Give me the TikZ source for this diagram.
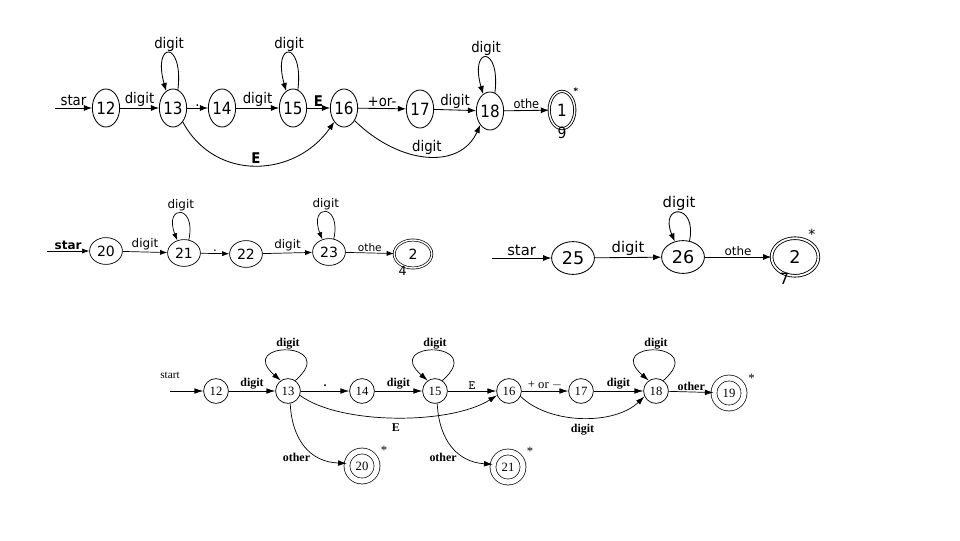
\documentclass[tikz,border=0pt]{standalone}
\usepackage{fontspec}
\setmainfont{Liberation Serif}
\newfontfamily\condsans{DejaVu Sans Condensed}
\newfontfamily\plainsans{DejaVu Sans}
\usetikzlibrary{arrows.meta,positioning,shapes.geometric}

\begin{document}
\begin{tikzpicture}[
    x=0.025cm, y=-0.025cm,
    % upper diagram
    tstate/.style={ellipse, draw, line width=0.6pt, minimum width=6.3mm, minimum height=9.5mm, inner sep=0pt, font=\condsans\fontsize{12}{12}\selectfont},
    taccept/.style={tstate, double, double distance=1pt, minimum width=6.4mm, minimum height=9.3mm},
    tedge/.style={-{Latex[length=2mm,width=1.5mm]}, line width=0.6pt, font=\condsans\fontsize{10.5}{10.5}\selectfont},
    % middle left diagram
    mstate/.style={ellipse, draw, line width=0.5pt, minimum width=8.2mm, minimum height=6.7mm, inner sep=0pt, font=\plainsans\fontsize{10}{10}\selectfont},
    maccept/.style={mstate, double, double distance=1pt, minimum width=9.4mm, minimum height=7mm},
    medge/.style={-{Latex[length=1.8mm,width=1.3mm]}, line width=0.5pt, font=\plainsans\fontsize{8.5}{8.5}\selectfont},
    % middle right diagram
    rstate/.style={ellipse, draw, line width=0.6pt, minimum width=10.7mm, minimum height=8.2mm, inner sep=0pt, font=\plainsans\fontsize{12.5}{12.5}\selectfont},
    raccept/.style={rstate, double, double distance=1.3pt, minimum width=11.7mm, minimum height=9.4mm},
    redge/.style={-{Latex[length=2mm,width=1.5mm]}, line width=0.6pt, font=\plainsans\fontsize{10.5}{10.5}\selectfont},
    % lower diagram
    bstate/.style={circle, draw, line width=0.5pt, minimum size=6.2mm, inner sep=0pt, font=\fontsize{9}{9}\selectfont},
    baccept/.style={bstate, double, double distance=1.3mm, minimum size=7.5mm},
    bedge/.style={-{Latex[length=2.2mm,width=1.4mm]}, line width=0.5pt, font=\bfseries\fontsize{8.5}{8.5}\selectfont},
    lbl/.style={inner sep=1pt}
]
\fill[white] (0,0) rectangle (960,540);
\useasboundingbox (0,0) rectangle (960,540);

% ---- upper diagram
\coordinate (t0) at (55,108);
\node[tstate] (t12) at (106,108) {12};
\node[tstate] (t13) at (173,108) {13};
\node[tstate] (t14) at (222,108) {14};
\node[tstate] (t15) at (293,108) {15};
\node[tstate] (t16) at (344,108) {16};
\node[tstate] (t17) at (420,109) {17};
\node[tstate] (t18) at (490,111) {18};
\node[taccept, label={[font=\scriptsize\bfseries, label distance=-3pt]60:*}, label={[font=\condsans\fontsize{11}{11}\selectfont, label distance=-5pt]below:9}] (t19) at (562,110) {1};

\draw[tedge] (t0) -- node[above, lbl] {star} (t12);
\draw[tedge] (t12) -- node[above, lbl] {digit} (t13);
\draw[tedge] (t13.75) .. controls +(6,-50) and +(-14,-50) .. node[above, lbl] {digit} (t13.112);
\draw[tedge] (t13) -- node[above, lbl] {.} (t14);
\draw[tedge] (t14) -- node[above, lbl] {digit} (t15);
\draw[tedge] (t15.75) .. controls +(6,-50) and +(-14,-50) .. node[above, lbl] {digit} (t15.112);
\draw[tedge] (t15) -- node[above, lbl] {\bfseries E} (t16);
\draw[tedge] (t16) -- node[above, lbl] {+or-} (t17);
\draw[tedge] (t17) -- node[above, lbl] {digit} (t18);
\draw[tedge] (t18.75) .. controls +(6,-48) and +(-14,-48) .. node[above, lbl] {digit} (t18.112);
\draw[tedge] (t18) -- node[above, lbl] {\fontsize{9}{9}\selectfont othe} (t19);
\draw[tedge] (t13.-55) .. controls (215,182) and (295,178) .. node[above, lbl] {\bfseries E} (t16.-125);
\draw[tedge] (t16.-50) .. controls (400,165) and (460,170) .. node[above, lbl] {digit} (t18.-125);

% ---- middle left diagram
\coordinate (m0) at (47,251);
\node[mstate] (m20) at (106,251) {20};
\node[mstate] (m21) at (184,253) {21};
\node[mstate] (m22) at (246,254) {22};
\node[mstate] (m23) at (329,252) {23};
\node[maccept, label={[font=\plainsans\fontsize{9}{9}\selectfont, label distance=-5pt]-100:4}] (m24) at (413,254) {2};

\draw[medge] (m0) -- node[above, lbl] {\bfseries star} (m20);
\draw[medge] (m20) -- node[above, lbl] {digit} (m21);
\draw[medge] (m21.70) .. controls +(8,-36) and +(-14,-36) .. node[above, lbl] {digit} (m21.118);
\draw[medge] (m21) -- node[above, lbl] {.} (m22);
\draw[medge] (m22) -- node[above, lbl] {digit} (m23);
\draw[medge] (m23.70) .. controls +(8,-36) and +(-14,-36) .. node[above, lbl] {digit} (m23.118);
\draw[medge] (m23) -- node[above, lbl] {\fontsize{7.5}{7.5}\selectfont othe} (m24);

% ---- middle right diagram
\coordinate (r0) at (492,258);
\node[rstate] (r25) at (573,258) {25};
\node[rstate] (r26) at (683,257) {26};
\node[raccept, label={[font=\plainsans\fontsize{10}{10}\selectfont, label distance=-4pt]55:*}, label={[font=\plainsans\fontsize{11}{11}\selectfont, label distance=-6pt]-95:7}] (r27) at (795,257) {2};

\draw[redge] (r0) -- node[above, lbl] {star} (r25);
\draw[redge] (r25) -- node[above, lbl] {digit} (r26);
\draw[redge] (r26.68) .. controls +(8,-38) and +(-16,-38) .. node[above, lbl] {digit} (r26.118);
\draw[redge] (r26) -- node[above, lbl] {\fontsize{8.5}{8.5}\selectfont othe} (r27);

% ---- lower diagram
\coordinate (b0) at (170,391);
\node[bstate] (b12) at (216,391) {12};
\node[bstate] (b13) at (288,391) {13};
\node[bstate] (b14) at (362,391) {14};
\node[bstate] (b15) at (435,391) {15};
\node[bstate] (b16) at (509,391) {16};
\node[bstate] (b17) at (581,391) {17};
\node[bstate] (b18) at (656,391) {18};
\node[baccept, label={[font=\fontsize{9}{9}\selectfont]20:*}] (b19) at (729,393) {19};
\node[baccept, label={[font=\fontsize{9}{9}\selectfont]25:*}] (b20) at (362,466) {20};
\node[baccept, label={[font=\fontsize{9}{9}\selectfont]25:*}] (b21) at (508,467) {21};

\draw[bedge] (b0) -- node[pos=0, above=5pt, font=\fontsize{8}{8}\selectfont] {start} (b12);
\draw[bedge] (b12) -- node[above, lbl] {digit} (b13);
\draw[bedge] (b13.55) .. controls +(46,-40) and +(-46,-40) .. node[above, lbl] {digit} (b13.125);
\draw[bedge] (b13) -- node[above=2pt, lbl] {.} (b14);
\draw[bedge] (b14) -- node[above, lbl] {digit} (b15);
\draw[bedge] (b15.55) .. controls +(46,-40) and +(-46,-40) .. node[above, lbl] {digit} (b15.125);
\draw[bedge] (b15) -- node[above, lbl, font=\ttfamily\fontsize{9}{9}\selectfont] {E} (b16);
\draw[bedge] (b16) -- node[above, lbl, font=\fontsize{9}{9}\selectfont] {+ or $-$} (b17);
\draw[bedge] (b17) -- node[above, lbl] {digit} (b18);
\draw[bedge] (b18.55) .. controls +(46,-40) and +(-46,-40) .. node[above, lbl] {digit} (b18.125);
\draw[bedge] (b18) -- node[above, lbl] {other} (b19);
\draw[bedge] (b13.-20) .. controls (340,425) and (450,425) .. node[below=3pt, lbl] {E} (b16.-160);
\draw[bedge] (b16.-25) .. controls (550,425) and (615,425) .. node[below=3pt, lbl] {digit} (b18.-155);
\draw[bedge] (b13.-80) .. controls (292,440) and (310,462) .. node[pos=0.72, left=6pt, lbl] {other} (b20.170);
\draw[bedge] (b15.-80) .. controls (439,440) and (457,462) .. node[pos=0.72, left=6pt, lbl] {other} (b21.170);
\end{tikzpicture}
\end{document}
